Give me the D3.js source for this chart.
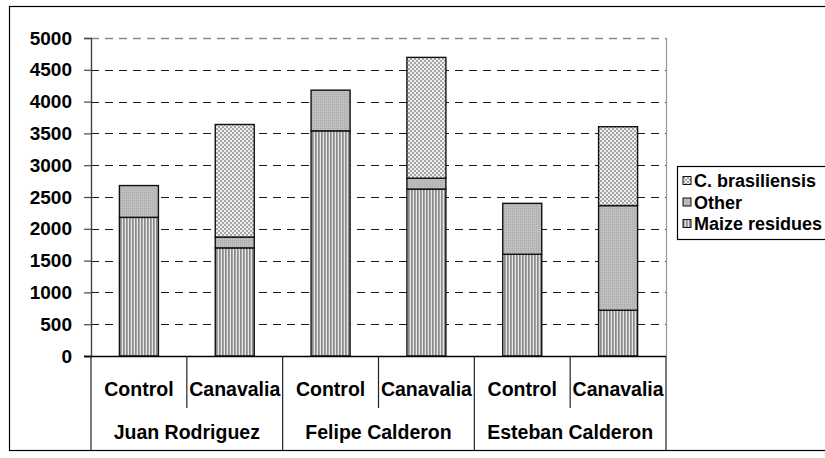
<!DOCTYPE html>
<html>
<head>
<meta charset="utf-8">
<script src="https://cdn.jsdelivr.net/npm/d3@7/dist/d3.min.js"></script>
<style>
  html, body { margin: 0; padding: 0; background: #fff; }
  svg { display: block; font-family: "Liberation Sans", Arial, sans-serif; font-weight: bold; }
</style>
</head>
<body>
<svg id="chart" width="825" height="458"></svg>
<script>
// Biomass by farm and treatment (stacked components)
const farmers = ["Juan Rodriguez", "Felipe Calderon", "Esteban Calderon"];
const treatments = ["Control", "Canavalia"];
const maizeResidues = [2180, 1700, 3540, 2625, 1600, 720];
const otherBiomass = [500, 170, 640, 170, 800, 1645];
const brasiliensis = [0, 1770, 0, 1900, 0, 1240];
const yTicks = [0, 500, 1000, 1500, 2000, 2500, 3000, 3500, 4000, 4500, 5000];
const seriesKeys = ["maize", "other", "bras"];
const seriesLabels = { maize: "Maize residues", other: "Other", bras: "C. brasiliensis" };
const legendOrder = ["bras", "other", "maize"];

const rows = [];
farmers.forEach((f, i) => treatments.forEach((t, j) => {
  const k = i * treatments.length + j;
  rows.push({ id: f + "|" + t, farmer: f, treatment: t,
    maize: maizeResidues[k], other: otherBiomass[k], bras: brasiliensis[k] });
}));

const svg = d3.select("#chart");
const plot = { left: 91, right: 666, top: 38, bottom: 356 };

// Fill patterns
const defs = svg.append("defs");
const pm = defs.append("pattern").attr("id", "pat-maize").attr("patternUnits", "userSpaceOnUse")
  .attr("width", 3).attr("height", 6);
pm.append("rect").attr("width", 3).attr("height", 6).attr("fill", "#e6e6e6");
pm.append("rect").attr("width", 1.7).attr("height", 6).attr("fill", "#8a8a8a");

const po = defs.append("pattern").attr("id", "pat-other").attr("patternUnits", "userSpaceOnUse")
  .attr("width", 2).attr("height", 2);
po.append("rect").attr("width", 2).attr("height", 2).attr("fill", "#bebebe");
po.append("rect").attr("width", 1).attr("height", 1).attr("fill", "#aaaaaa");

const pb = defs.append("pattern").attr("id", "pat-bras").attr("patternUnits", "userSpaceOnUse")
  .attr("width", 4).attr("height", 4);
pb.append("rect").attr("width", 4).attr("height", 4).attr("fill", "#efefef");
pb.append("rect").attr("width", 2).attr("height", 2).attr("fill", "#a6a6a6");
pb.append("rect").attr("x", 2).attr("y", 2).attr("width", 2).attr("height", 2).attr("fill", "#a6a6a6");

const fills = { maize: "url(#pat-maize)", other: "url(#pat-other)", bras: "url(#pat-bras)" };

// Outer frame
svg.append("rect").attr("x", 9.5).attr("y", 6.5).attr("width", 830).attr("height", 444)
  .attr("fill", "none").attr("stroke", "#000").attr("stroke-width", 1.2);

// Scales
const y = d3.scaleLinear().domain([0, 5000]).range([plot.bottom, plot.top]);
const xCell = d3.scaleBand().domain(rows.map(d => d.id)).range([plot.left, plot.right]).padding(0);
const x = d3.scaleBand().domain(rows.map(d => d.id)).range([plot.left, plot.right])
  .paddingInner(0.593).paddingOuter(0.2965);
const xGroup = d3.scaleBand().domain(farmers).range([plot.left, plot.right]).padding(0);

// Gridlines
svg.append("g").selectAll("line").data(yTicks.filter(v => v > 0)).join("line")
  .attr("x1", plot.left).attr("x2", plot.right)
  .attr("y1", d => Math.round(y(d)) + 0.5).attr("y2", d => Math.round(y(d)) + 0.5)
  .attr("stroke", d => d === 5000 ? "#8a8a8a" : "#1a1a1a").attr("stroke-width", d => d === 5000 ? 1.5 : 1.1)
  .attr("stroke-dasharray", "8,6");

// Plot area right border
svg.append("line").attr("x1", plot.right + 0.5).attr("x2", plot.right + 0.5)
  .attr("y1", plot.top).attr("y2", plot.bottom).attr("stroke", "#999").attr("stroke-width", 1.2);

// Stacked bars
const stacked = d3.stack().keys(seriesKeys)(rows);
svg.append("g").selectAll("g").data(stacked).join("g")
  .attr("fill", s => fills[s.key])
  .selectAll("rect").data(s => s.filter(d => d[1] - d[0] > 0)).join("rect")
  .attr("x", d => x(d.data.id))
  .attr("width", x.bandwidth())
  .attr("y", d => y(d[1]))
  .attr("height", d => y(d[0]) - y(d[1]))
  .attr("stroke", "#111").attr("stroke-width", 1.4);

// Y axis
const yAxis = d3.axisLeft(y).tickValues(yTicks).tickSize(7).tickPadding(12).tickFormat(d3.format("d"));
const ya = svg.append("g").attr("transform", `translate(${plot.left},0)`).call(yAxis);
ya.select(".domain").attr("stroke", "#444").attr("stroke-width", 1.4);
ya.selectAll(".tick line").attr("stroke", "#444").attr("stroke-width", 1.2);
ya.selectAll(".tick text").attr("font-size", 19).attr("font-weight", "bold")
  .attr("font-family", "'Liberation Sans', Arial, sans-serif").attr("fill", "#000");

// Baseline
svg.append("line").attr("x1", plot.left - 7).attr("x2", plot.right)
  .attr("y1", plot.bottom + 0.5).attr("y2", plot.bottom + 0.5).attr("stroke", "#000").attr("stroke-width", 1.4);

// Category separators: short between treatments, long between farmers
const bounds = rows.map(d => xCell(d.id)).concat([plot.right]);
svg.append("g").selectAll("line").data(bounds).join("line")
  .attr("x1", d => d).attr("x2", d => d)
  .attr("y1", plot.bottom).attr("y2", (d, i) => i % 2 === 0 ? 450 : 408)
  .attr("stroke", "#222").attr("stroke-width", 1.2);

// Treatment labels
svg.append("g").selectAll("text").data(rows).join("text")
  .attr("x", d => xCell(d.id) + xCell.bandwidth() / 2)
  .attr("y", 389).attr("dy", "0.35em").attr("text-anchor", "middle")
  .attr("font-size", 19.5).text(d => d.treatment);

// Farmer labels
svg.append("g").selectAll("text").data(farmers).join("text")
  .attr("x", d => xGroup(d) + xGroup.bandwidth() / 2)
  .attr("y", 432).attr("dy", "0.35em").attr("text-anchor", "middle")
  .attr("font-size", 19.5).text(d => d);

// Legend
const lg = svg.append("g");
lg.append("rect").attr("x", 677.5).attr("y", 166.5).attr("width", 170).attr("height", 73)
  .attr("fill", "#fff").attr("stroke", "#000").attr("stroke-width", 1.2);
const items = lg.selectAll("g").data(legendOrder).join("g")
  .attr("transform", (d, i) => `translate(683,${181 + i * 21.5})`);
items.append("rect").attr("x", 0).attr("y", -4.5).attr("width", 8).attr("height", 8)
  .attr("fill", d => fills[d]).attr("stroke", "#111").attr("stroke-width", 1);
items.append("text").attr("x", 11).attr("y", 0).attr("dy", "0.35em")
  .attr("font-size", 18).text(d => seriesLabels[d]);
</script>
</body>
</html>
